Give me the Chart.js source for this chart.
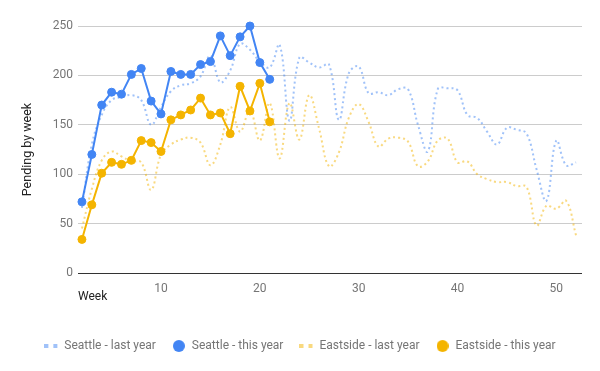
<!DOCTYPE html>
<html>
<head>
<meta charset="utf-8">
<title>Pending by week</title>
<script src="https://cdn.jsdelivr.net/npm/chart.js@4.4.0/dist/chart.umd.min.js"></script>
<style>
  html, body { margin: 0; padding: 0; background: #fff; }
  #wrap { width: 600px; height: 371px; }
</style>
</head>
<body>
<div id="wrap"><canvas id="chart" width="600" height="371"></canvas></div>
<script>
// weeks on the x axis
const weeksLastYear = [2, 3, 4, 5, 6, 7, 8, 9, 10, 11, 12, 13, 14, 15, 16, 17, 18, 19, 20, 21,
  22, 23, 24, 25, 26, 27, 28, 29, 30, 31, 32, 33, 34, 35, 36, 37, 38, 39, 40, 41,
  42, 43, 44, 45, 46, 47, 48, 49, 50, 51, 52];
const weeksThisYear = [2, 3, 4, 5, 6, 7, 8, 9, 10, 11, 12, 13, 14, 15, 16, 17, 18, 19, 20, 21];

const seattleLastYear = [66, 130, 160, 175, 178, 180, 175, 150, 168, 184,
  190, 192, 199, 220, 193, 205, 232, 226, 214, 208,
  231, 154, 218, 213, 208, 211, 155, 202, 209, 182,
  183, 180, 186, 186, 150, 123, 186, 187, 185, 160,
  157, 143, 130, 147, 145, 141, 105, 73, 134, 109, 112];
const seattleThisYear = [72, 120, 170, 183, 181, 201, 207, 174, 161, 204,
  201, 201, 211, 214, 240, 220, 239, 250, 213, 196];
const eastsideLastYear = [45, 85, 114, 123, 118, 113, 112, 84, 120, 130,
  135, 137, 132, 109, 130, 168, 143, 165, 134, 172,
  116, 172, 135, 180, 146, 108, 122, 157, 171, 153,
  128, 136, 137, 133, 108, 113, 134, 136, 112, 113,
  100, 95, 92, 92, 88, 87, 48, 68, 65, 73, 38];
const eastsideThisYear = [34, 69, 101, 112, 110, 114, 134, 132, 123, 155,
  160, 165, 177, 160, 162, 141, 189, 164, 192, 153];

const xTicks = [10, 20, 30, 40, 50];
const yTicks = [0, 50, 100, 150, 200, 250];
const seriesNames = ['Seattle - last year', 'Seattle - this year', 'Eastside - last year', 'Eastside - this year'];

const BLUE = '#4285f4';
const ORANGE = '#f4b400';
const BLUE_LIGHT = 'rgba(66,133,244,0.5)';
const ORANGE_LIGHT = 'rgba(244,180,0,0.5)';

const toPoints = (xs, ys) => xs.map((x, i) => ({ x, y: ys[i] }));

// legend markers
function dotsMarker(color) {
  const c = document.createElement('canvas');
  c.width = 14; c.height = 4;
  const ctx = c.getContext('2d');
  ctx.fillStyle = color;
  ctx.fillRect(0, 0, 4, 4);
  ctx.fillRect(9, 0, 4, 4);
  return c;
}
function dotMarker(color) {
  const c = document.createElement('canvas');
  c.width = 12; c.height = 12;
  const ctx = c.getContext('2d');
  ctx.fillStyle = color;
  ctx.beginPath();
  ctx.arc(6, 6, 6, 0, Math.PI * 2);
  ctx.fill();
  return c;
}
const markers = [dotsMarker(BLUE_LIGHT), dotMarker(BLUE), dotsMarker(ORANGE_LIGHT), dotMarker(ORANGE)];

const lastYearStyle = (color) => ({
  borderColor: color,
  backgroundColor: color,
  borderWidth: 2,
  borderDash: [2, 3],
  pointRadius: 0,
  tension: 0.4,
  clip: false,
  order: 2,
});
const thisYearStyle = (color) => ({
  borderColor: color,
  backgroundColor: color,
  pointBackgroundColor: color,
  pointBorderColor: color,
  borderWidth: 2,
  pointRadius: 4,
  pointBorderWidth: 1,
  tension: 0,
  clip: false,
  order: 1,
});

new Chart(document.getElementById('chart'), {
  type: 'line',
  data: {
    datasets: [
      { label: seriesNames[0], data: toPoints(weeksLastYear, seattleLastYear), ...lastYearStyle(BLUE_LIGHT) },
      { label: seriesNames[1], data: toPoints(weeksThisYear, seattleThisYear), ...thisYearStyle(BLUE) },
      { label: seriesNames[2], data: toPoints(weeksLastYear, eastsideLastYear), ...lastYearStyle(ORANGE_LIGHT) },
      { label: seriesNames[3], data: toPoints(weeksThisYear, eastsideThisYear), ...thisYearStyle(ORANGE) },
    ],
  },
  options: {
    responsive: false,
    animation: false,
    layout: { padding: { top: 26, right: 0, bottom: 9, left: 0 } },
    plugins: {
      tooltip: { enabled: false },
      legend: {
        position: 'bottom',
        labels: {
          usePointStyle: true,
          pointStyleWidth: 14,
          boxHeight: 12,
          padding: 16,
          color: '#757575',
          font: { family: 'Roboto', size: 12 },
          generateLabels: (chart) => chart.data.datasets.map((ds, i) => ({
            text: ds.label,
            pointStyle: markers[i],
            fillStyle: 'transparent',
            strokeStyle: 'transparent',
            lineWidth: 0,
            hidden: false,
            datasetIndex: i,
            fontColor: '#757575',
          })),
        },
      },
    },
    scales: {
      x: {
        type: 'linear',
        min: 1.6,
        max: 52.6,
        grid: { display: false },
        border: { display: false },
        afterFit: (scale) => { scale.height = 51; },
        afterBuildTicks: (scale) => { scale.ticks = xTicks.map(v => ({ value: v })); },
        ticks: { color: '#757575', font: { family: 'Roboto', size: 12 }, padding: 1, maxRotation: 0 },
        title: {
          display: true,
          text: 'Week',
          align: 'start',
          color: '#222',
          font: { family: 'Roboto', size: 12 },
          padding: { top: 0, bottom: 20 },
        },
      },
      y: {
        min: 0,
        max: 250,
        afterFit: (scale) => { scale.width = 78; },
        afterBuildTicks: (scale) => { scale.ticks = yTicks.map(v => ({ value: v })); },
        grid: {
          drawTicks: false,
          color: (ctx) => ctx.tick && ctx.tick.value === 0 ? '#333' : '#cccccc',
        },
        border: { display: false },
        ticks: { color: '#757575', font: { family: 'Roboto', size: 12 }, padding: 5 },
        title: {
          display: true,
          text: 'Pending by week',
          color: '#222',
          font: { family: 'Roboto', size: 12.5 },
          padding: { top: 20, bottom: 0 },
        },
      },
      // empty right axis only keeps 18px free right of the plot
      yRight: {
        position: 'right',
        display: true,
        grid: { display: false },
        border: { display: false },
        ticks: { display: false },
        afterFit: (scale) => { scale.width = 18; },
      },
    },
  },
});
</script>
</body>
</html>
